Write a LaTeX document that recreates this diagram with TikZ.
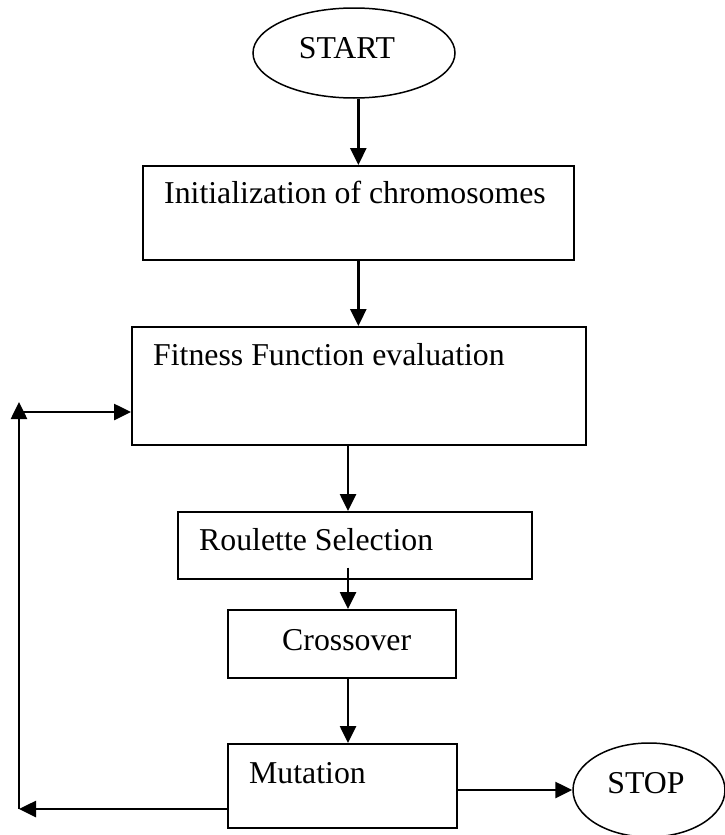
\documentclass[tikz,border=0pt]{standalone}
\usepackage{fontspec}
\setmainfont{Liberation Serif}
\usetikzlibrary{arrows.meta,shapes.geometric}
\begin{document}
\begin{tikzpicture}[x=1pt,y=-1pt,
  boxnode/.style={draw,line width=1.7pt,rectangle,inner sep=0pt,anchor=north west},
  ovalnode/.style={draw,line width=1.5pt,ellipse,inner sep=0pt},
  txt/.style={font=\fontsize{31.8}{36}\selectfont,inner sep=0pt,anchor=base west},
  flow/.style={line width=2.6pt,-{Triangle[length=17pt,width=16pt]}}]
\useasboundingbox (0,0) rectangle (724,835);
% shapes
\node[ovalnode,minimum width=202pt,minimum height=90pt] (start) at (354,53) {};
\node[txt,anchor=base] (starttxt) at (347,58) {START};
\node[boxnode,minimum width=431pt,minimum height=94pt] (init) at (142,165) {};
\node[txt] (inittxt) at (164,203) {Initialization of chromosomes};
\node[boxnode,minimum width=454pt,minimum height=118pt] (fit) at (131,326) {};
\node[txt] (fittxt) at (153,365) {Fitness Function evaluation};
\node[boxnode,minimum width=354pt,minimum height=67pt] (roul) at (177,511) {};
\node[txt] (roultxt) at (199,550) {Roulette Selection};
\node[boxnode,minimum width=228pt,minimum height=68pt] (cross) at (227,609) {};
\node[txt] (crosstxt) at (282,650) {Crossover};
\node[boxnode,minimum width=229pt,minimum height=84pt] (mut) at (227,743) {};
\node[txt] (muttxt) at (249,783) {Mutation};
\node[ovalnode,minimum width=152pt,minimum height=94pt] (stop) at (649,790) {};
\node[txt,anchor=base] (stoptxt) at (646,793) {STOP};
% helper coordinates
\coordinate (axis) at (348,0);
\coordinate (rs) at ([yshift=12pt]roul.south);
\coordinate (bl) at (19,809);
\coordinate (tl) at (19,402);
\coordinate (fb) at (19,412);
% connectors
\draw[flow] (start.south -| init.north) -- (init.north);
\draw[flow] (init.south) -- (init.south |- fit.north);
\draw[flow] (fit.south -| axis) -- (roul.north -| axis);
\draw[flow] (rs -| axis) -- (cross.north -| axis);
\draw[flow] (cross.south -| axis) -- (mut.north -| axis);
\draw[flow] (mut.east |- stop.west) -- (stop.west);
\draw[flow] (mut.west |- bl) -- (bl);
\draw[flow] (bl) -- (tl);
\draw[flow] (fb) -- (fb -| fit.west);
\end{tikzpicture}
\end{document}
